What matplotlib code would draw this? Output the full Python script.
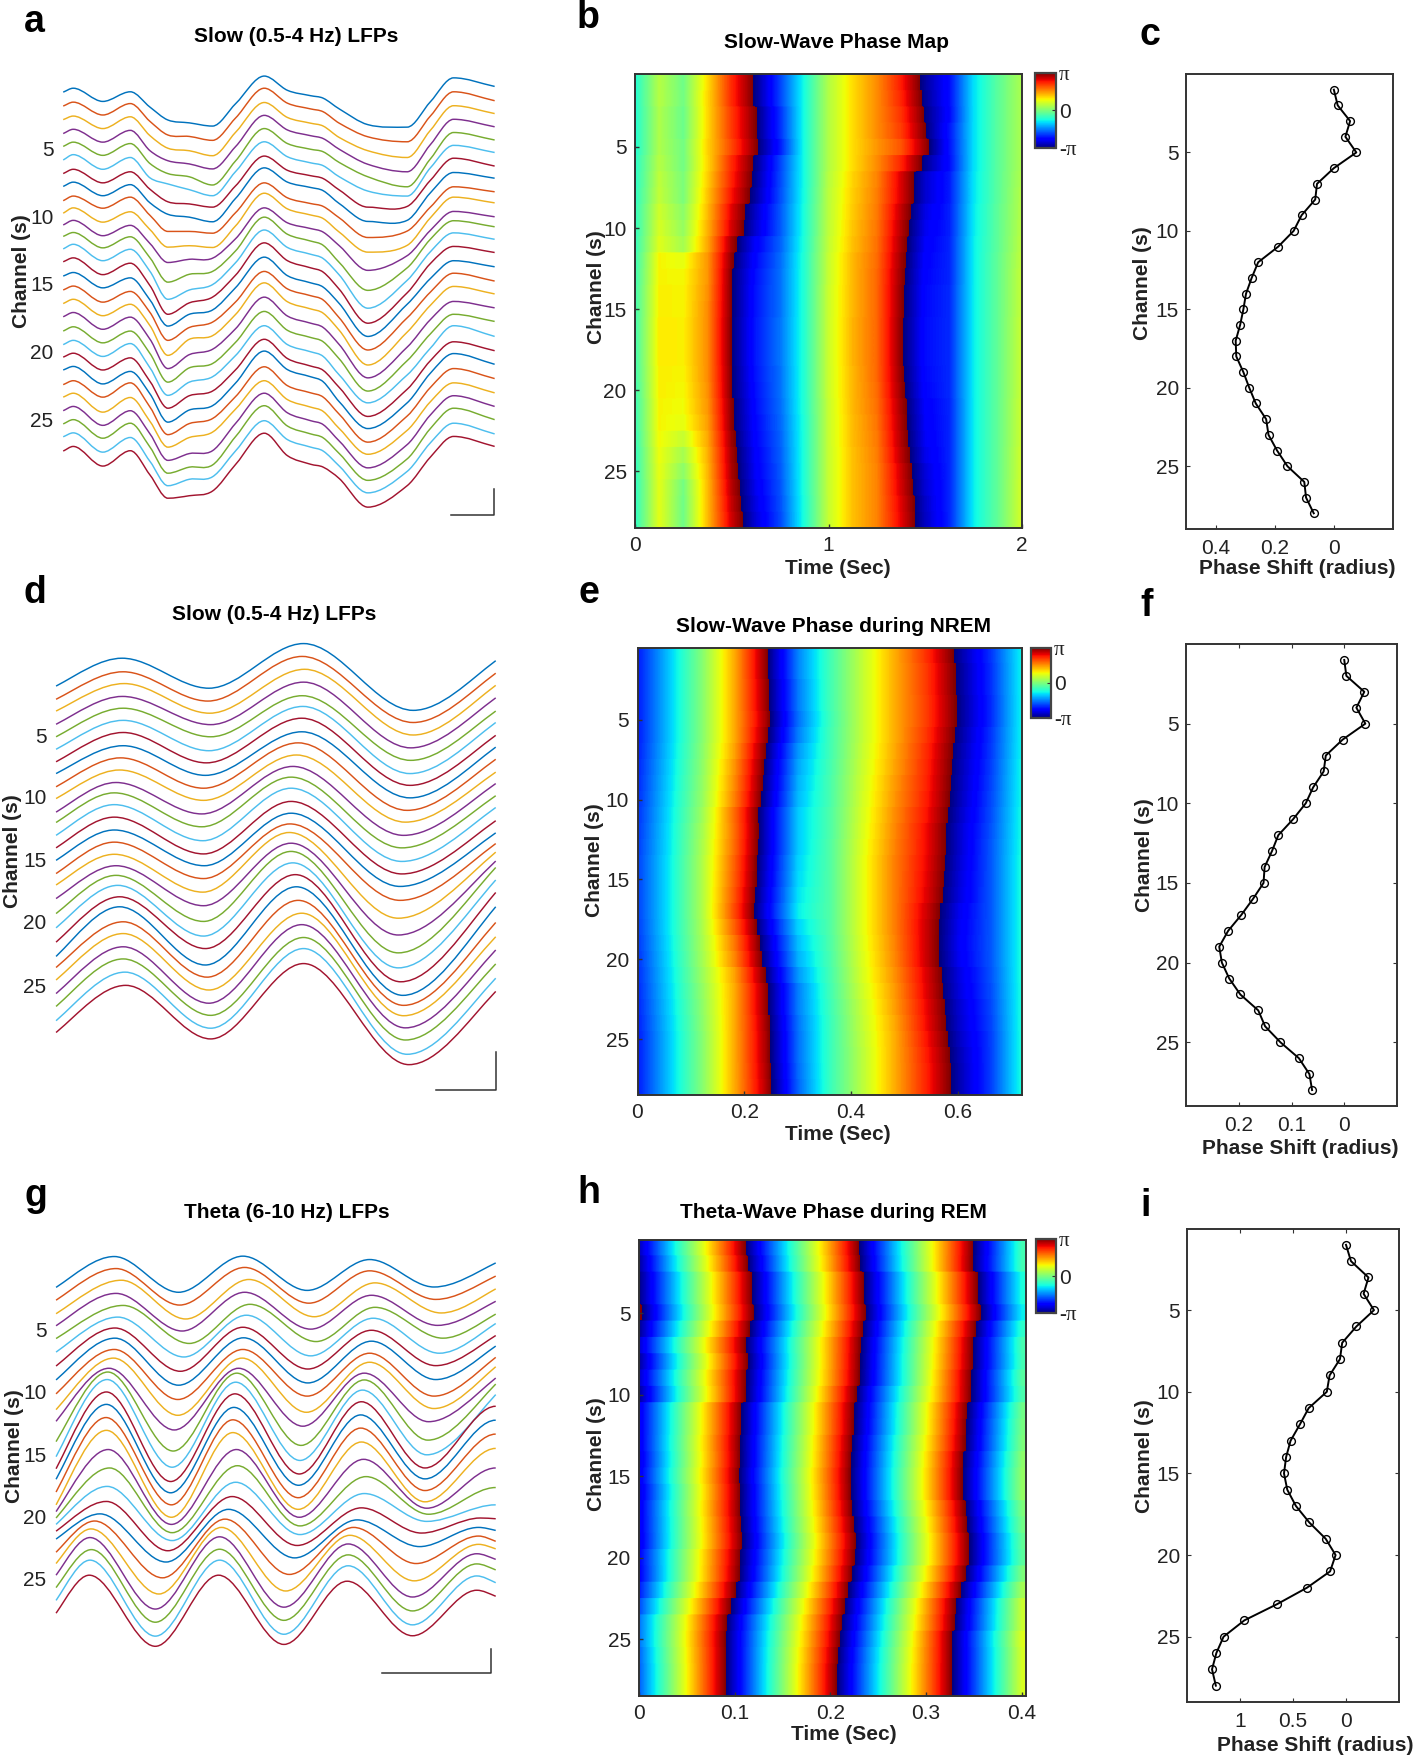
import numpy as np
import matplotlib
matplotlib.use("Agg")
import matplotlib.pyplot as plt
from matplotlib.colors import ListedColormap, Normalize
from matplotlib.cm import ScalarMappable
from matplotlib.patches import PathPatch
from matplotlib.path import Path

plt.rcParams['font.family'] = ['Liberation Sans', 'DejaVu Sans']

W, H = 1416, 1760
trace_colors = ['#0072BD', '#D95319', '#EDB120', '#7E2F8E', '#77AC30', '#4DBEEE', '#A2142F']
channels = list(range(1, 29))
channel_ticks = [5, 10, 15, 20, 25]

# Panel a: slow LFP traces, one list per sample position, 28 channels each (trace level, down is larger)
a_x = [177, 205, 288, 365, 420, 470, 530, 595, 660, 740, 805, 870, 905, 950, 1030, 1140, 1205, 1270, 1385]
a_levels = [
    [258, 297, 335, 374, 410, 448, 486, 522, 562, 597, 630, 662, 697, 733, 773, 812, 850, 887, 927, 965, 1000, 1036, 1077, 1112, 1150, 1187, 1223, 1263],
    [247, 286, 325, 362, 398, 433, 474, 510, 549, 582, 617, 651, 684, 722, 763, 801, 838, 875, 915, 953, 989, 1026, 1066, 1101, 1138, 1175, 1212, 1250],
    [284, 322, 360, 398, 435, 474, 512, 548, 583, 622, 660, 694, 730, 769, 806, 846, 884, 922, 960, 998, 1036, 1075, 1112, 1154, 1191, 1227, 1266, 1305],
    [257, 290, 327, 365, 402, 441, 481, 517, 552, 593, 631, 663, 698, 737, 778, 816, 852, 888, 927, 962, 1002, 1040, 1072, 1113, 1150, 1185, 1225, 1262],
    [300, 340, 380, 422, 458, 498, 530, 568, 603, 643, 682, 722, 760, 800, 840, 875, 912, 950, 990, 1030, 1068, 1103, 1140, 1180, 1215, 1252, 1292, 1330],
    [336, 378, 415, 450, 486, 515, 565, 600, 648, 692, 735, 790, 838, 880, 913, 953, 995, 1032, 1070, 1107, 1143, 1182, 1217, 1252, 1289, 1325, 1360, 1395],
    [344, 382, 422, 459, 495, 531, 571, 608, 648, 688, 726, 768, 812, 848, 880, 917, 950, 993, 1030, 1070, 1108, 1148, 1186, 1225, 1270, 1308, 1342, 1388],
    [353, 393, 436, 473, 518, 548, 580, 621, 653, 693, 723, 760, 797, 832, 868, 902, 940, 978, 1018, 1055, 1095, 1136, 1172, 1210, 1262, 1302, 1335, 1375],
    [290, 330, 370, 410, 450, 480, 520, 555, 595, 632, 668, 702, 735, 770, 805, 845, 880, 920, 958, 995, 1035, 1072, 1110, 1145, 1185, 1222, 1262, 1300],
    [213, 247, 287, 323, 360, 397, 437, 470, 512, 541, 582, 608, 644, 680, 720, 760, 792, 832, 872, 912, 950, 983, 1027, 1066, 1101, 1136, 1178, 1213],
    [253, 289, 329, 364, 402, 439, 477, 510, 554, 585, 624, 656, 693, 730, 772, 809, 845, 885, 925, 965, 1004, 1035, 1080, 1119, 1156, 1193, 1231, 1276],
    [268, 305, 345, 380, 418, 456, 492, 525, 570, 602, 640, 675, 712, 750, 792, 828, 865, 905, 945, 985, 1025, 1055, 1100, 1140, 1178, 1215, 1252, 1300],
    [275, 313, 353, 388, 425, 464, 500, 534, 578, 612, 650, 687, 724, 762, 804, 840, 877, 917, 957, 998, 1037, 1069, 1112, 1152, 1189, 1226, 1263, 1308],
    [305, 345, 385, 418, 455, 495, 532, 570, 610, 650, 688, 735, 770, 810, 850, 890, 925, 965, 1005, 1050, 1085, 1125, 1160, 1200, 1235, 1270, 1305, 1340],
    [349, 383, 422, 460, 495, 535, 580, 620, 665, 706, 757, 813, 863, 905, 942, 980, 1022, 1058, 1095, 1128, 1166, 1200, 1238, 1272, 1310, 1345, 1380, 1420],
    [356, 397, 441, 481, 523, 549, 578, 617, 647, 687, 716, 750, 785, 820, 852, 890, 930, 972, 1010, 1050, 1090, 1128, 1165, 1205, 1245, 1285, 1320, 1360],
    [285, 325, 365, 405, 445, 470, 505, 540, 580, 610, 645, 670, 705, 738, 780, 818, 855, 895, 935, 975, 1010, 1045, 1085, 1125, 1162, 1200, 1240, 1280],
    [218, 257, 296, 334, 371, 407, 443, 483, 523, 552, 592, 618, 652, 690, 730, 765, 802, 844, 880, 912, 957, 990, 1032, 1072, 1108, 1143, 1185, 1222],
    [242, 282, 318, 355, 392, 427, 465, 499, 537, 568, 607, 635, 670, 707, 747, 787, 823, 862, 900, 942, 982, 1020, 1060, 1100, 1138, 1175, 1215, 1250],
]

# Panel d: slow LFP traces, levels and positions of the turning points per channel
d_left = [325, 362, 395, 432, 467, 502, 537, 570, 607, 640, 678, 707, 743, 778, 813, 850, 882, 920, 962, 1002, 1042, 1082, 1113, 1148, 1186, 1222, 1262, 1295]
d_peak1 = [247, 285, 318, 354, 387, 421, 455, 492, 526, 560, 595, 624, 657, 692, 728, 762, 796, 828, 855, 883, 915, 943, 985, 1018, 1055, 1089, 1126, 1163]
d_trough1 = [331, 367, 401, 433, 467, 506, 540, 575, 611, 645, 683, 719, 758, 795, 828, 864, 902, 940, 984, 1025, 1060, 1106, 1140, 1176, 1213, 1247, 1283, 1313]
d_peak2 = [206, 242, 278, 314, 352, 382, 415, 453, 484, 518, 550, 580, 611, 648, 681, 711, 735, 765, 788, 820, 853, 887, 925, 961, 993, 1029, 1060, 1102]
d_trough2 = [393, 427, 462, 498, 533, 570, 603, 638, 673, 706, 743, 778, 816, 851, 886, 925, 975, 1022, 1072, 1114, 1153, 1191, 1219, 1248, 1282, 1316, 1356, 1385]
d_right = [254, 289, 323, 358, 395, 427, 463, 496, 530, 566, 598, 632, 665, 702, 736, 766, 790, 815, 833, 868, 903, 943, 987, 1027, 1064, 1103, 1143, 1180]
d_peak1_x = [342, 345, 348, 343, 345, 345, 345, 345, 338, 335, 325, 320, 320, 320, 320, 320, 320, 325, 325, 330, 335, 335, 345, 345, 345, 345, 350, 352]
d_trough1_x = [585, 582, 587, 590, 590, 585, 578, 575, 570, 570, 565, 565, 568, 570, 572, 570, 568, 570, 570, 570, 575, 575, 580, 585, 585, 590, 590, 590]
d_peak2_x = [850, 846, 853, 850, 846, 848, 845, 845, 835, 830, 820, 815, 815, 815, 815, 812, 810, 815, 815, 820, 827, 830, 835, 845, 845, 850, 850, 850]
d_trough2_x = [1157, 1157, 1157, 1150, 1150, 1148, 1148, 1148, 1140, 1135, 1130, 1125, 1125, 1125, 1120, 1120, 1115, 1115, 1115, 1115, 1122, 1128, 1130, 1130, 1135, 1135, 1140, 1145]

# Panel g: theta LFP traces, levels and positions of the turning points per channel
g_left = [312, 346, 382, 414, 448, 484, 521, 558, 595, 637, 668, 722, 762, 794, 822, 856, 890, 908, 925, 942, 960, 981, 1016, 1046, 1077, 1110, 1144, 1178]
g_peak1 = [230, 262, 293, 328, 360, 391, 420, 447, 477, 500, 527, 537, 557, 590, 623, 658, 692, 743, 792, 841, 881, 914, 933, 954, 977, 1009, 1037, 1077]
g_trough1 = [325, 359, 396, 428, 461, 497, 535, 572, 610, 652, 691, 747, 790, 828, 858, 890, 923, 942, 964, 985, 1012, 1042, 1084, 1127, 1167, 1202, 1239, 1266]
g_peak2 = [229, 259, 291, 325, 357, 386, 418, 446, 477, 500, 527, 540, 564, 595, 631, 664, 698, 743, 786, 830, 868, 902, 928, 950, 975, 1008, 1037, 1077]
g_trough2 = [320, 354, 390, 423, 456, 494, 529, 566, 601, 644, 681, 732, 772, 808, 838, 871, 902, 923, 946, 969, 998, 1031, 1075, 1119, 1162, 1197, 1234, 1261]
g_peak3 = [238, 268, 300, 333, 365, 394, 426, 455, 487, 511, 540, 558, 585, 616, 651, 686, 723, 769, 815, 860, 898, 930, 950, 971, 994, 1023, 1052, 1093]
g_trough3 = [311, 344, 380, 413, 447, 487, 520, 557, 601, 634, 669, 718, 757, 792, 821, 852, 882, 899, 915, 934, 965, 1001, 1046, 1092, 1135, 1172, 1209, 1238]
g_peak4 = [None] * 20 + [925, 950, 973, 995, 1020, 1047, 1079, 1117]
g_right = [247, 282, 316, 349, 383, 408, 440, 468, 498, 523, 553, 569, 597, 628, 665, 702, 740, 792, 844, 890, 927, 958, 987, 1007, 1035, 1063, 1097, 1133]
g_peak1_x = [320, 325, 340, 325, 345, 330, 322, 322, 320, 318, 305, 302, 300, 298, 298, 297, 298, 303, 307, 300, 298, 280, 265, 255, 252, 256, 252, 250]
g_trough1_x = [500, 503, 520, 510, 530, 515, 505, 500, 498, 498, 488, 485, 482, 478, 478, 480, 480, 480, 482, 482, 470, 465, 455, 445, 435, 435, 435, 435]
g_peak2_x = [680, 685, 697, 685, 700, 690, 680, 682, 680, 678, 668, 663, 660, 658, 655, 652, 652, 662, 665, 660, 650, 640, 630, 620, 615, 615, 615, 612]
g_trough2_x = [860, 865, 880, 870, 885, 870, 862, 862, 860, 858, 848, 843, 840, 838, 836, 835, 835, 838, 840, 840, 832, 825, 810, 800, 795, 795, 795, 795]
g_peak3_x = [1035, 1035, 1050, 1040, 1050, 1045, 1040, 1040, 1035, 1035, 1020, 1020, 1015, 1012, 1010, 1010, 1012, 1018, 1025, 1020, 1012, 1000, 990, 980, 975, 975, 975, 972]
g_trough3_x = [1215, 1220, 1235, 1225, 1240, 1230, 1220, 1220, 1215, 1215, 1200, 1198, 1195, 1190, 1190, 1190, 1190, 1195, 1200, 1195, 1180, 1175, 1165, 1160, 1155, 1155, 1155, 1155]
g_peak4_x = [None] * 20 + [1345, 1340, 1340, 1340, 1335, 1335, 1335, 1335]

# Phase maps: unwrapped phase in hundredths of pi, one row per channel
b_time = [0, 0.125, 0.25, 0.375, 0.5, 0.625, 0.75, 0.875, 1, 1.125, 1.25, 1.375, 1.5, 1.625, 1.75, 1.875, 2]
b_phase = [
    [-22, 14, -3, 35, 73, 103, 138, 176, 213, 235, 252, 276, 306, 327, 369, 392, 412],
    [-22, 14, -2, 36, 73, 103, 138, 176, 213, 235, 252, 274, 304, 327, 369, 392, 412],
    [-22, 12, -4, 36, 70, 99, 134, 176, 213, 235, 252, 271, 301, 326, 369, 392, 412],
    [-22, 12, -4, 36, 70, 99, 134, 176, 213, 235, 252, 269, 299, 329, 369, 392, 412],
    [-22, 12, -2, 37, 67, 97, 130, 176, 213, 235, 250, 264, 294, 328, 369, 392, 412],
    [-20, 14, -2, 36, 73, 103, 138, 176, 213, 235, 252, 274, 304, 327, 369, 392, 412],
    [-20, 16, 0, 38, 75, 105, 139, 176, 214, 237, 254, 284, 314, 330, 370, 392, 413],
    [-19, 17, 0, 40, 78, 107, 140, 176, 215, 238, 255, 284, 314, 330, 370, 392, 414],
    [-18, 20, 4, 42, 83, 113, 142, 177, 215, 239, 256, 288, 318, 331, 371, 393, 414],
    [-18, 22, 6, 44, 85, 115, 142, 177, 216, 240, 257, 290, 320, 331, 371, 393, 415],
    [-17, 24, 10, 46, 93, 123, 144, 178, 217, 241, 258, 292, 322, 332, 372, 393, 416],
    [-16, 30, 26, 50, 97, 126, 146, 179, 218, 243, 259, 294, 324, 332, 372, 394, 417],
    [-15, 30, 29, 50, 99, 128, 147, 179, 218, 243, 260, 295, 325, 332, 372, 394, 418],
    [-14, 31, 30, 51, 99, 129, 147, 179, 219, 243, 260, 296, 326, 333, 372, 394, 418],
    [-14, 31, 30, 52, 99, 129, 147, 179, 219, 243, 260, 296, 326, 333, 372, 394, 418],
    [-14, 32, 31, 52, 100, 130, 148, 179, 219, 244, 260, 297, 327, 333, 372, 394, 419],
    [-14, 32, 31, 52, 100, 130, 148, 179, 219, 244, 260, 297, 327, 333, 372, 394, 419],
    [-14, 32, 31, 52, 100, 130, 148, 179, 219, 244, 260, 297, 327, 333, 372, 394, 419],
    [-14, 31, 30, 52, 99, 129, 147, 179, 219, 243, 260, 296, 326, 333, 372, 394, 419],
    [-15, 31, 29, 51, 99, 128, 147, 179, 219, 243, 259, 295, 325, 333, 372, 394, 419],
    [-16, 30, 28, 50, 97, 127, 146, 179, 218, 243, 258, 293, 323, 332, 372, 394, 420],
    [-16, 30, 26, 48, 97, 126, 145, 178, 218, 242, 257, 292, 322, 332, 372, 394, 420],
    [-17, 29, 18, 46, 95, 125, 144, 178, 218, 242, 256, 291, 321, 332, 372, 394, 420],
    [-18, 27, 10, 44, 93, 123, 143, 178, 218, 241, 255, 289, 319, 332, 372, 394, 421],
    [-18, 26, 4, 43, 92, 122, 142, 178, 218, 241, 254, 286, 316, 332, 372, 394, 421],
    [-19, 25, -2, 42, 90, 120, 141, 178, 218, 241, 254, 285, 315, 332, 372, 394, 422],
    [-19, 25, -3, 42, 88, 118, 140, 177, 218, 241, 254, 283, 313, 332, 372, 394, 422],
    [-19, 25, -3, 42, 86, 116, 139, 177, 218, 241, 254, 282, 312, 332, 372, 394, 422],
]
e_time = [0, 0.06, 0.12, 0.18, 0.24, 0.30, 0.36, 0.42, 0.48, 0.54, 0.60, 0.66, 0.72]
e_phase = [
    [-70, -35, 2, 45, 97, 151, 186, 217, 245, 272, 305, 335, 375],
    [-70, -35, 2, 45, 97, 151, 186, 217, 245, 270, 303, 334, 375],
    [-70, -35, 2, 45, 95, 149, 186, 217, 245, 270, 303, 334, 375],
    [-70, -35, 2, 45, 95, 149, 186, 217, 245, 269, 302, 333, 375],
    [-70, -35, 2, 45, 93, 147, 185, 217, 245, 269, 302, 333, 375],
    [-70, -35, 2, 45, 96, 150, 186, 217, 245, 271, 304, 335, 375],
    [-69, -34, 3, 47, 101, 155, 186, 218, 246, 273, 306, 336, 375],
    [-68, -33, 4, 50, 104, 158, 187, 219, 247, 274, 307, 337, 376],
    [-67, -32, 5, 52, 106, 160, 188, 220, 249, 275, 308, 338, 376],
    [-66, -31, 6, 54, 108, 162, 188, 221, 250, 276, 309, 339, 376],
    [-65, -30, 8, 59, 113, 165, 189, 222, 252, 278, 311, 340, 377],
    [-64, -29, 10, 58, 113, 165, 189, 223, 253, 280, 313, 341, 377],
    [-63, -29, 11, 59, 113, 165, 190, 224, 254, 280, 313, 342, 377],
    [-62, -28, 12, 61, 115, 167, 190, 225, 255, 281, 314, 342, 378],
    [-62, -28, 12, 62, 116, 168, 190, 225, 255, 282, 315, 342, 378],
    [-62, -28, 12, 64, 118, 170, 190, 225, 255, 283, 316, 342, 378],
    [-62, -28, 12, 66, 120, 172, 190, 225, 255, 286, 319, 342, 378],
    [-63, -28, 11, 61, 115, 167, 190, 225, 255, 287, 320, 342, 378],
    [-64, -29, 10, 56, 110, 163, 189, 224, 254, 287, 321, 342, 378],
    [-65, -30, 9, 53, 107, 160, 188, 223, 253, 287, 320, 342, 378],
    [-66, -31, 7, 47, 101, 155, 187, 222, 251, 284, 317, 341, 378],
    [-67, -32, 5, 45, 96, 150, 186, 220, 249, 283, 316, 340, 378],
    [-68, -33, 4, 45, 96, 150, 185, 218, 248, 281, 314, 339, 378],
    [-69, -34, 3, 45, 94, 148, 184, 217, 246, 280, 313, 338, 378],
    [-70, -35, 2, 45, 93, 147, 184, 216, 245, 278, 311, 337, 378],
    [-70, -35, 2, 45, 93, 147, 184, 215, 245, 276, 309, 337, 378],
    [-70, -35, 2, 45, 92, 146, 184, 215, 245, 275, 308, 337, 378],
    [-70, -35, 2, 45, 91, 145, 184, 215, 245, 275, 308, 337, 378],
]
h_time = [0, 0.04, 0.08, 0.12, 0.16, 0.20, 0.24, 0.28, 0.32, 0.36, 0.40]
h_phase = [
    [-90, -22, 46, 114, 181, 249, 317, 384, 451, 518, 586],
    [-95, -26, 42, 110, 179, 247, 315, 383, 451, 519, 586],
    [-99, -33, 35, 103, 172, 240, 308, 376, 443, 510, 577],
    [-99, -33, 35, 103, 172, 240, 308, 376, 443, 510, 577],
    [-105, -37, 32, 100, 168, 237, 305, 372, 438, 505, 572],
    [-97, -29, 39, 107, 175, 242, 310, 378, 446, 514, 581],
    [-87, -20, 47, 113, 180, 247, 314, 382, 450, 519, 587],
    [-95, -26, 42, 110, 179, 247, 315, 383, 451, 519, 586],
    [-88, -21, 46, 113, 181, 248, 316, 383, 454, 522, 591],
    [-95, -25, 44, 114, 183, 253, 322, 388, 455, 522, 588],
    [-81, -14, 54, 122, 190, 258, 325, 393, 461, 529, 597],
    [-81, -14, 54, 122, 190, 258, 326, 393, 462, 531, 599],
    [-81, -13, 56, 124, 192, 261, 329, 397, 464, 532, 600],
    [-83, -14, 55, 124, 193, 262, 331, 399, 468, 536, 604],
    [-81, -12, 57, 126, 195, 264, 332, 401, 469, 538, 606],
    [-84, -15, 55, 124, 194, 263, 332, 401, 469, 538, 606],
    [-81, -13, 56, 124, 192, 261, 329, 397, 464, 532, 600],
    [-81, -14, 54, 122, 190, 258, 325, 393, 461, 529, 597],
    [-82, -14, 53, 120, 187, 255, 322, 390, 458, 525, 593],
    [-77, -10, 57, 123, 190, 257, 324, 390, 458, 525, 592],
    [-78, -10, 58, 125, 193, 261, 329, 397, 464, 532, 600],
    [-71, -3, 64, 132, 200, 268, 336, 404, 473, 541, 610],
    [-61, 6, 73, 140, 208, 275, 343, 412, 481, 550, 619],
    [-53, 13, 80, 147, 213, 280, 347, 415, 483, 551, 619],
    [-53, 14, 82, 149, 216, 283, 351, 419, 488, 556, 624],
    [-56, 13, 81, 150, 218, 286, 354, 421, 488, 555, 622],
    [-57, 12, 81, 150, 219, 288, 355, 422, 488, 555, 622],
    [-57, 12, 81, 150, 219, 288, 355, 422, 488, 555, 622],
]

# Phase shift per channel (radius)
c_shift = [0, -.013, -.055, -.039, -.076, 0, .057, .063, .109, .136, .188, .256, .278, .297, .306, .317, .332, .330, .306, .286, .264, .229, .221, .192, .157, .100, .094, .068]
f_shift = [0, -.004, -.038, -.023, -.040, .003, .035, .039, .059, .073, .097, .125, .137, .151, .153, .173, .195, .220, .237, .232, .218, .197, .163, .150, .121, .086, .066, .061]
i_shift = [0, -.047, -.212, -.166, -.264, -.098, .036, .057, .155, .181, .352, .435, .523, .565, .585, .554, .472, .347, .192, .098, .150, .368, .648, .959, 1.155, 1.223, 1.264, 1.228]


def px_axes(fig, x0, y0, x1, y1):
    # axes from pixel box, y counted from the top
    return fig.add_axes([x0 / W, 1 - y1 / H, (x1 - x0) / W, (y1 - y0) / H])


def px_text(fig, x, y, s, **kw):
    kw.setdefault('ha', 'center')
    kw.setdefault('va', 'center')
    fig.text(x / W, 1 - y / H, s, **kw)


def curve(x, y, slopes):
    verts = [(x[0], y[0])]
    codes = [Path.MOVETO]
    for i in range(len(x) - 1):
        step = (x[i + 1] - x[i]) / 3
        verts.append((x[i] + step, y[i] + slopes[i] * step))
        verts.append((x[i + 1] - step, y[i + 1] - slopes[i + 1] * step))
        verts.append((x[i + 1], y[i + 1]))
        codes += [Path.CURVE4] * 3
    return Path(verts, codes)


def turning_slopes(x, y):
    # flat at turning points, ends follow the first and last stretch
    slopes = [0.0] * len(x)
    slopes[0] = 1.25 * (y[1] - y[0]) / (x[1] - x[0])
    slopes[-1] = 1.25 * (y[-1] - y[-2]) / (x[-1] - x[-2])
    return slopes


def shape_slopes(x, y):
    # flat where the trace turns, slope across both neighbours elsewhere
    d = np.diff(y) / np.diff(x)
    slopes = [d[0]]
    for i in range(1, len(x) - 1):
        if d[i - 1] * d[i] <= 0:
            slopes.append(0.0)
        else:
            slopes.append((y[i + 1] - y[i - 1]) / (x[i + 1] - x[i - 1]))
    slopes.append(d[-1])
    return slopes


def trace_axes(fig, box, xlim, ylim, ticks):
    ax = px_axes(fig, *box)
    ax.set_xlim(*xlim)
    ax.set_ylim(*ylim)
    ax.patch.set_visible(False)
    for s in ax.spines.values():
        s.set_visible(False)
    ax.set_xticks([])
    ax.set_yticks(ticks)
    ax.set_yticklabels(channel_ticks, fontsize=15, color='#222222')
    ax.tick_params(axis='y', length=0, pad=7)
    return ax


def draw_trace(ax, x, y, slopes, i):
    ax.add_patch(PathPatch(curve(x, y, slopes), fill=False, edgecolor=trace_colors[i % 7], lw=1.05, clip_on=False))


def scale_bar(ax, x0, x1, y0, y1):
    ax.plot([x0, x1, x1], [y1, y1, y0], color='#333333', lw=1.1, clip_on=False)


phase_cmap = ListedColormap(np.tile(plt.get_cmap('jet')(np.arange(256)), (5, 1)))
phase_norm = Normalize(-300, 700)


def phase_map(fig, box, cbox, time, phase, xlim, xticks, xlabels):
    ax = px_axes(fig, *box)
    dt = time[1] - time[0]
    rows = np.repeat(np.array(phase, dtype=float), 16, axis=0)
    ax.imshow(rows, cmap=phase_cmap, norm=phase_norm, aspect='auto', interpolation='bilinear',
              interpolation_stage='data', extent=[time[0] - dt / 2, time[-1] + dt / 2, 28.5, 0.5])
    ax.set_xlim(*xlim)
    ax.set_ylim(28.5, 0.5)
    ax.set_yticks(channel_ticks)
    ax.set_yticklabels(channel_ticks)
    ax.set_xticks(xticks)
    ax.set_xticklabels(xlabels)
    ax.tick_params(direction='in', length=3, labelsize=15, labelcolor='#222222', color='#333333', width=1)
    ax.tick_params(axis='x', pad=6)
    ax.tick_params(axis='y', pad=6)
    for s in ax.spines.values():
        s.set_linewidth(1.4)
        s.set_color('#333333')
    cax = px_axes(fig, *cbox)
    cb = fig.colorbar(ScalarMappable(Normalize(-np.pi, np.pi), 'jet'), cax=cax, ticks=[-np.pi, 0, np.pi])
    cb.ax.set_yticklabels(['-π', '0', 'π'], fontsize=15, color='#222222')
    for label in (cb.ax.get_yticklabels()[0], cb.ax.get_yticklabels()[2]):
        label.set_family(['Liberation Serif', 'DejaVu Serif'])
    cb.ax.tick_params(direction='in', length=3, pad=2, color='#333333')
    cb.outline.set_linewidth(1.6)
    cb.outline.set_edgecolor('#444444')


def shift_axes(fig, box, shift, xlim, xticks, xlabels, box_ticks):
    ax = px_axes(fig, *box)
    ax.plot(shift, channels, '-o', color='black', lw=1.4, ms=5.6, mfc='none', mew=1.0)
    ax.set_xlim(*xlim)
    ax.set_ylim(29, 0)
    ax.set_yticks(channel_ticks)
    ax.set_yticklabels(channel_ticks)
    ax.set_xticks(xticks)
    ax.set_xticklabels(xlabels)
    ax.tick_params(direction='in', length=3, labelsize=15, labelcolor='#222222', color='#333333', top=box_ticks, right=box_ticks)
    ax.tick_params(axis='x', pad=7)
    ax.tick_params(axis='y', pad=5)
    for s in ax.spines.values():
        s.set_linewidth(1.4)
        s.set_color('#333333')


fig = plt.figure(figsize=(W / 100, H / 100), dpi=100, facecolor='white')

# panel a
ax = trace_axes(fig, (177 / 2.8, 200 / 2.8, 1385 / 2.8, 1450 / 2.8), (177, 1385), (1450, 200), [415, 605, 795, 985, 1175])
a_traces = np.array(a_levels, dtype=float).T
for i, y in enumerate(a_traces):
    draw_trace(ax, a_x, y, shape_slopes(a_x, y), i)
scale_bar(ax, 1263, 1382, 1368, 1442)

# panel d
ax = trace_axes(fig, (157 / 2.8, 570 + 190 / 2.8, 1388 / 2.8, 570 + 1460 / 2.8), (157, 1388), (1460, 190), [462, 635, 810, 985, 1163])
for i in range(28):
    x = [157, d_peak1_x[i], d_trough1_x[i], d_peak2_x[i], d_trough2_x[i], 1388]
    y = [d_left[i], d_peak1[i], d_trough1[i], d_peak2[i], d_trough2[i], d_right[i]]
    draw_trace(ax, x, y, turning_slopes(x, y), i)
scale_bar(ax, 1220, 1390, 1350, 1455)

# panel g
ax = trace_axes(fig, (157 / 2.8, 1170 + 215 / 2.658, 1388 / 2.8, 1170 + 1345 / 2.658), (157, 1388), (1345, 215), [425, 590, 755, 920, 1085])
for i in range(28):
    x = [157, g_peak1_x[i], g_trough1_x[i], g_peak2_x[i], g_trough2_x[i], g_peak3_x[i], g_trough3_x[i]]
    y = [g_left[i], g_peak1[i], g_trough1[i], g_peak2[i], g_trough2[i], g_peak3[i], g_trough3[i]]
    if g_peak4[i] is not None:
        x.append(g_peak4_x[i])
        y.append(g_peak4[i])
    x.append(1388)
    y.append(g_right[i])
    slopes = turning_slopes(x, y)
    if 13 <= i < 20:
        # these channels reach their last peak right at the end
        slopes[-1] = 0.0
    draw_trace(ax, x, y, slopes, i)
scale_bar(ax, 1070, 1376, 1272, 1336)

# phase maps
phase_map(fig, (635, 74, 1022, 528), (1035, 73, 1056, 148), b_time, b_phase, (0, 2), [0, 1, 2], ['0', '1', '2'])
phase_map(fig, (637.5, 648, 1022, 1095), (1031, 648, 1051, 718), e_time, e_phase, (0, 0.72), [0, 0.2, 0.4, 0.6], ['0', '0.2', '0.4', '0.6'])
phase_map(fig, (639, 1240, 1025.5, 1696), (1035.5, 1239, 1056, 1313), h_time, h_phase, (0, 0.404), [0, 0.1, 0.2, 0.3, 0.4], ['0', '0.1', '0.2', '0.3', '0.4'])

# phase shift profiles
shift_axes(fig, (1186, 74, 1393, 529), c_shift, (0.5, -0.2), [0.4, 0.2, 0], ['0.4', '0.2', '0'], False)
shift_axes(fig, (1186, 644, 1397, 1106), f_shift, (0.3, -0.1), [0.2, 0.1, 0], ['0.2', '0.1', '0'], True)
shift_axes(fig, (1187, 1228.5, 1399, 1702), i_shift, (1.5, -0.5), [1, 0.5, 0], ['1', '0.5', '0'], True)

# titles
for x, y, s in [(296, 36, 'Slow (0.5-4 Hz) LFPs'), (837, 43, 'Slow-Wave Phase Map'),
                (274, 614, 'Slow (0.5-4 Hz) LFPs'), (834, 626, 'Slow-Wave Phase during NREM'),
                (287, 1212, 'Theta (6-10 Hz) LFPs'), (833, 1212, 'Theta-Wave Phase during REM')]:
    px_text(fig, x, y, s, fontsize=15, fontweight='bold')

# axis labels
for x, y in [(22, 271), (13, 851), (14, 1446), (597, 287), (595, 860), (596, 1454), (1143, 283), (1144, 855), (1144, 1456)]:
    px_text(fig, x, y, 'Channel (s)', fontsize=15, fontweight='bold', rotation=90, color='#222222')
for x, y in [(838, 568), (838, 1134), (844, 1734)]:
    px_text(fig, x, y, 'Time (Sec)', fontsize=15, fontweight='bold', color='#222222')
for x, y in [(1297, 569), (1300, 1148), (1315, 1745)]:
    px_text(fig, x, y, 'Phase Shift (radius)', fontsize=15, fontweight='bold', color='#222222')

# panel letters
for x, y, s in [(34, 22, 'a'), (588, 18, 'b'), (1150, 35, 'c'), (35, 593, 'd'), (589, 593, 'e'),
                (1147, 606, 'f'), (36, 1196, 'g'), (589, 1193, 'h'), (1146, 1206, 'i')]:
    px_text(fig, x, y, s, fontsize=27, fontweight='bold')

fig.savefig('out.png', dpi=100)
